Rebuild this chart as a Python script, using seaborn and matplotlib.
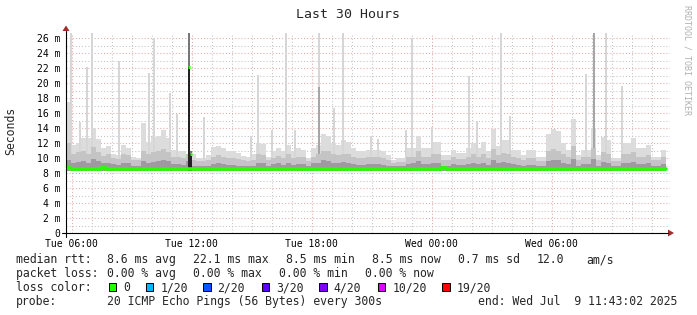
import numpy as np
import matplotlib
matplotlib.use("Agg")
import matplotlib.pyplot as plt
import seaborn as sns
from matplotlib.patches import Rectangle, Polygon
from matplotlib.lines import Line2D

# ---------------- data ----------------
title = "Last 30 Hours"
step_hours = 0.25          # each smoke sample covers 15 minutes (start Tue 05:43)
smoke_floor = 8.3

smoke_light = [17.5, 11.8, 12.0, 12.7, 12.7, 14.0, 12.5, 11.3, 11.6, 10.5, 10.4, 11.8, 11.3, 10.2, 10.0, 14.7, 12.2, 12.8, 13.0, 13.7,
               12.7, 11.1, 11.0, 10.9, 10.4, 10.5, 10.0, 10.0, 10.4, 11.5, 11.6, 11.3, 11.0, 10.9, 10.7, 10.3, 10.2, 10.5, 12.0, 11.9,
               10.2, 10.9, 11.3, 10.9, 11.8, 10.9, 11.3, 11.1, 10.0, 11.3, 11.8, 13.2, 13.0, 12.0, 11.8, 12.4, 12.2, 11.3, 10.9, 10.9,
               11.1, 11.1, 11.1, 10.9, 10.4, 9.8, 10.0, 10.0, 11.3, 11.3, 13.0, 11.3, 11.3, 12.2, 12.2, 10.4, 10.4, 11.1, 10.7, 10.7,
               11.3, 12.0, 11.3, 12.2, 10.9, 13.9, 11.6, 12.4, 12.4, 11.1, 11.1, 10.4, 11.1, 11.1, 10.2, 10.2, 13.2, 13.9, 13.6, 12.0,
               11.1, 15.2, 10.4, 11.1, 11.1, 14.0, 10.4, 12.8, 12.4, 10.0, 10.0, 12.0, 12.0, 12.7, 11.3, 11.3, 11.8, 10.2, 10.2, 11.1]

smoke_mid = [12.0, 10.5, 10.8, 11.0, 10.6, 11.5, 10.8, 10.3, 10.5, 10.0, 9.9, 10.6, 10.4, 9.8, 9.7, 11.0, 10.5, 10.8, 10.9, 11.2,
             10.8, 10.2, 10.1, 10.0, 10.6, 9.8, 9.6, 9.6, 9.8, 10.2, 10.4, 10.2, 10.0, 10.0, 9.9, 9.7, 9.6, 9.8, 10.5, 10.4,
             9.7, 10.0, 10.3, 10.0, 10.5, 10.0, 10.2, 10.1, 9.6, 10.2, 10.5, 11.0, 11.0, 10.5, 10.4, 10.6, 10.6, 10.2, 10.0, 10.0,
             10.1, 10.1, 10.2, 10.0, 9.8, 9.4, 9.5, 9.5, 10.2, 10.2, 10.9, 10.2, 10.2, 10.6, 10.6, 9.8, 9.8, 10.1, 9.9, 9.9,
             10.2, 10.5, 10.2, 10.6, 10.0, 11.2, 10.4, 10.7, 10.6, 10.1, 10.0, 9.7, 10.0, 10.0, 9.6, 9.6, 10.9, 11.2, 11.0, 10.5,
             10.1, 11.6, 9.8, 10.1, 10.1, 11.4, 9.8, 10.8, 10.6, 9.6, 9.6, 10.5, 10.5, 10.8, 10.2, 10.2, 10.4, 9.7, 9.7, 10.1]

smoke_dark = [9.8, 9.3, 9.5, 9.6, 9.4, 9.9, 9.6, 9.3, 9.4, 9.2, 9.1, 9.4, 9.3, 9.0, 9.0, 9.6, 9.4, 9.5, 9.6, 9.8,
              9.6, 9.2, 9.2, 9.1, 9.6, 9.0, 8.9, 8.9, 9.0, 9.2, 9.3, 9.2, 9.1, 9.1, 9.0, 8.9, 8.9, 9.0, 9.4, 9.3,
              9.0, 9.2, 9.3, 9.1, 9.4, 9.1, 9.2, 9.2, 8.9, 9.3, 9.4, 9.7, 9.6, 9.4, 9.3, 9.5, 9.4, 9.2, 9.1, 9.1,
              9.2, 9.2, 9.2, 9.1, 9.0, 8.9, 8.9, 8.9, 9.2, 9.3, 9.6, 9.2, 9.2, 9.4, 9.4, 9.0, 9.0, 9.2, 9.1, 9.1,
              9.2, 9.4, 9.2, 9.4, 9.1, 9.8, 9.3, 9.5, 9.4, 9.2, 9.1, 9.0, 9.1, 9.1, 8.9, 8.9, 9.6, 9.8, 9.7, 9.4,
              9.2, 9.9, 9.0, 9.2, 9.2, 9.9, 9.0, 9.5, 9.4, 8.9, 8.9, 9.4, 9.4, 9.5, 9.2, 9.2, 9.3, 9.0, 9.0, 9.2]

median_rtt = [8.65, 8.55, 8.6, 8.6, 8.55, 8.6, 8.6, 8.65, 8.6, 8.6, 8.6, 8.6, 8.6, 8.55, 8.6, 8.6, 8.6, 8.6, 8.6, 8.6,
              8.6, 8.6, 8.55, 8.6, 8.6, 8.55, 8.6, 8.6, 8.6, 8.6, 8.6, 8.55, 8.6, 8.6, 8.6, 8.6, 8.55, 8.6, 8.6, 8.6,
              8.6, 8.6, 8.6, 8.6, 8.6, 8.6, 8.6, 8.6, 8.6, 8.6, 8.6, 8.6, 8.6, 8.6, 8.6, 8.6, 8.6, 8.6, 8.6, 8.6,
              8.6, 8.6, 8.6, 8.6, 8.6, 8.6, 8.6, 8.6, 8.6, 8.6, 8.6, 8.6, 8.6, 8.6, 8.6, 8.65, 8.55, 8.55, 8.6, 8.6,
              8.6, 8.6, 8.6, 8.6, 8.6, 8.6, 8.55, 8.6, 8.6, 8.6, 8.6, 8.6, 8.6, 8.6, 8.6, 8.6, 8.6, 8.6, 8.6, 8.6,
              8.6, 8.6, 8.6, 8.6, 8.6, 8.6, 8.6, 8.6, 8.6, 8.6, 8.6, 8.55, 8.6, 8.6, 8.55, 8.6, 8.6, 8.6, 8.6, 8.6]

spike_hours = [0.25, 0.70, 1.05, 1.30, 2.65, 4.15, 4.40, 5.20, 5.55, 6.90, 9.25, 9.60, 10.30, 11.00, 11.45,
               12.65, 13.40, 13.85, 15.25, 15.60, 17.00, 17.30, 18.30, 20.15, 20.55, 21.75, 22.20, 26.00, 26.40,
               27.00, 27.80]
spike_tops = [26.7, 14.8, 22.1, 26.7, 22.9, 21.3, 26.0, 18.7, 15.9, 15.5, 13.0, 21.1, 13.7, 26.7, 13.7,
              26.7, 16.7, 26.7, 13.0, 12.5, 13.8, 26.0, 14.2, 20.9, 15.0, 26.7, 15.6, 21.2, 26.7,
              26.7, 19.6]
dark_spike_hours = [12.65, 26.40]
dark_spike_tops = [19.5, 26.7]

outlier_hours = [6.15, 6.25]
outlier_median = [22.1, 10.5]
outlier_max = [26.7, 10.9]

y_ticks = list(range(0, 27, 2))
y_labels = ["0"] + [f"{v} m" for v in y_ticks[1:]]
x_tick_hours = [17 / 60 + 6 * k for k in range(5)]
x_labels = ["Tue 06:00", "Tue 12:00", "Tue 18:00", "Wed 00:00", "Wed 06:00"]

rtt_stats = [8.6, 22.1, 8.5, 8.5, 0.7, 12.0]
loss_stats = [0.00, 0.00, 0.00, 0.00]
loss_names = ["0", "1/20", "2/20", "3/20", "4/20", "10/20", "19/20"]
loss_colors = ["#26ff00", "#00b8ff", "#0059ff", "#5e00ff", "#7e00ff", "#dd00ff", "#ff0000"]

# ---------------- style ----------------
sns.set_style("white")
plt.rcParams["font.family"] = ["DejaVu Sans Mono", "DejaVu Sans"]

W, H = 697, 315
fig = plt.figure(figsize=(W / 100, H / 100), dpi=100)
fig.patch.set_facecolor("white")

def fx(px):
    return px / W

def fy(py):
    return 1 - py / H

ax = fig.add_axes([fx(66), fy(233), 604 / W, 200 / H])
ax.set_xlim(0, 30.2)
ax.set_ylim(0, 26.67)
for s in ax.spines.values():
    s.set_visible(False)
ax.set_facecolor("white")

# grid
minor_col = "#c4c4c4"
major_col = "#e3aaaa"
dots = (0, (1, 2))
for v in range(1, 27):
    ax.axhline(v, color=major_col if v % 2 == 0 else minor_col, lw=0.75, ls=dots, zorder=0)
for k in range(31):
    h = 17 / 60 + k
    if h > 30.2:
        break
    ax.axvline(h, color=major_col if k % 6 == 0 else minor_col, lw=0.75, ls=dots, zorder=0)

# smoke
n = len(smoke_light)
t = np.arange(n + 1) * step_hours

def ext(a):
    a = np.asarray(a, dtype=float)
    return np.append(a, a[-1])

floor = np.full(n + 1, smoke_floor)
ax.fill_between(t, floor, ext(smoke_light), step="post", color="#dcdcdc", lw=0, zorder=1)
ax.fill_between(t, floor, ext(smoke_mid), step="post", color="#c4c4c4", lw=0, zorder=2)
ax.fill_between(t, floor, ext(smoke_dark), step="post", color="#9c9c9c", lw=0, zorder=3)

sp_h = np.asarray(spike_hours)
sp_t = np.asarray(spike_tops)
ax.bar(sp_h, sp_t - smoke_floor, bottom=smoke_floor, width=1 / 12, color="#d6d6d6", lw=0, zorder=1.5)
ax.bar(dark_spike_hours, np.asarray(dark_spike_tops) - smoke_floor, bottom=smoke_floor,
       width=1 / 12, color="#a6a6a6", lw=0, zorder=1.6)

# outlier sample (all pings high)
om = np.asarray(outlier_median)
ox = np.asarray(outlier_max)
ax.bar(outlier_hours, ox - om, bottom=om, width=1 / 12, color="#777777", lw=0, zorder=4)
ax.bar(outlier_hours, om - smoke_floor, bottom=smoke_floor, width=1 / 12, color="#222222", lw=0, zorder=4)

# median line
sns.lineplot(x=t, y=ext(median_rtt), drawstyle="steps-post", color="#26ff00", lw=2.6, ax=ax, zorder=5)
ax.hlines(om, np.asarray(outlier_hours) - 1 / 24, np.asarray(outlier_hours) + 1 / 24,
          color="#26ff00", lw=2.2, zorder=6)

# ticks
ax.set_yticks(y_ticks)
ax.set_yticklabels(y_labels)
ax.set_xticks(x_tick_hours)
ax.set_xticklabels(x_labels)
ax.tick_params(axis="both", length=0, labelsize=7, colors="black")
ax.tick_params(axis="y", pad=4.2)
ax.tick_params(axis="x", pad=4.0)
ax.set_xlabel("")
ax.set_ylabel("")

# axes lines with arrows
arrow_col = "#a52a2a"
fig.add_artist(Line2D([fx(62), fx(668)], [fy(233), fy(233)], color="black", lw=0.8))
fig.add_artist(Line2D([fx(66), fx(66)], [fy(237), fy(31)], color="black", lw=0.8))
fig.add_artist(Polygon([[fx(668), fy(229.5)], [fx(668), fy(236.5)], [fx(674), fy(233)]],
                       closed=True, color=arrow_col, lw=0))
fig.add_artist(Polygon([[fx(62.5), fy(31)], [fx(69.5), fy(31)], [fx(66), fy(25.5)]],
                       closed=True, color=arrow_col, lw=0))

# texts
fig.text(fx(348), fy(18.5), title, ha="center", va="baseline", fontsize=9.5)
fig.text(fx(11), fy(131), "Seconds", rotation=90, ha="center", va="center", fontsize=8.3)
fig.text(fx(687), fy(5), "RRDTOOL / TOBI OETIKER", rotation=270, ha="center", va="top",
         fontsize=6, color="#b0b0b0")

fs = 8.3
def put(px, base, s):
    fig.text(fx(px), fy(base), s, ha="left", va="baseline", fontsize=fs)

b1, b2, b3, b4 = 263.3, 277.3, 291.3, 305.3
put(16, b1, "median rtt:")
put(107, b1, f"{rtt_stats[0]:.1f} ms avg")
put(193, b1, f"{rtt_stats[1]:.1f} ms max")
put(286, b1, f"{rtt_stats[2]:.1f} ms min")
put(372, b1, f"{rtt_stats[3]:.1f} ms now")
put(458, b1, f"{rtt_stats[4]:.1f} ms sd")
put(537, b1, f"{rtt_stats[5]:.1f}")
put(586, b1, "am/s")

put(16, b2, "packet loss:")
put(107, b2, f"{loss_stats[0]:.2f} % avg")
put(193, b2, f"{loss_stats[1]:.2f} % max")
put(279, b2, f"{loss_stats[2]:.2f} % min")
put(365, b2, f"{loss_stats[3]:.2f} % now")

put(16, b3, "loss color:")
box_x = [108.7, 145.7, 203, 261.7, 319, 377.7, 442]
for bx, name, col in zip(box_x, loss_names, loss_colors):
    fig.add_artist(Rectangle((fx(bx), fy(291.3)), 7.5 / W, 8 / H, facecolor=col,
                             edgecolor="black", lw=0.7))
    put(bx + 14.5, b3, name)

put(16, b4, "probe:")
put(107, b4, "20 ICMP Echo Pings (56 Bytes) every 300s")
put(478, b4, "end: Wed Jul  9 11:43:02 2025")

fig.savefig("out.png", dpi=100, facecolor="white")
